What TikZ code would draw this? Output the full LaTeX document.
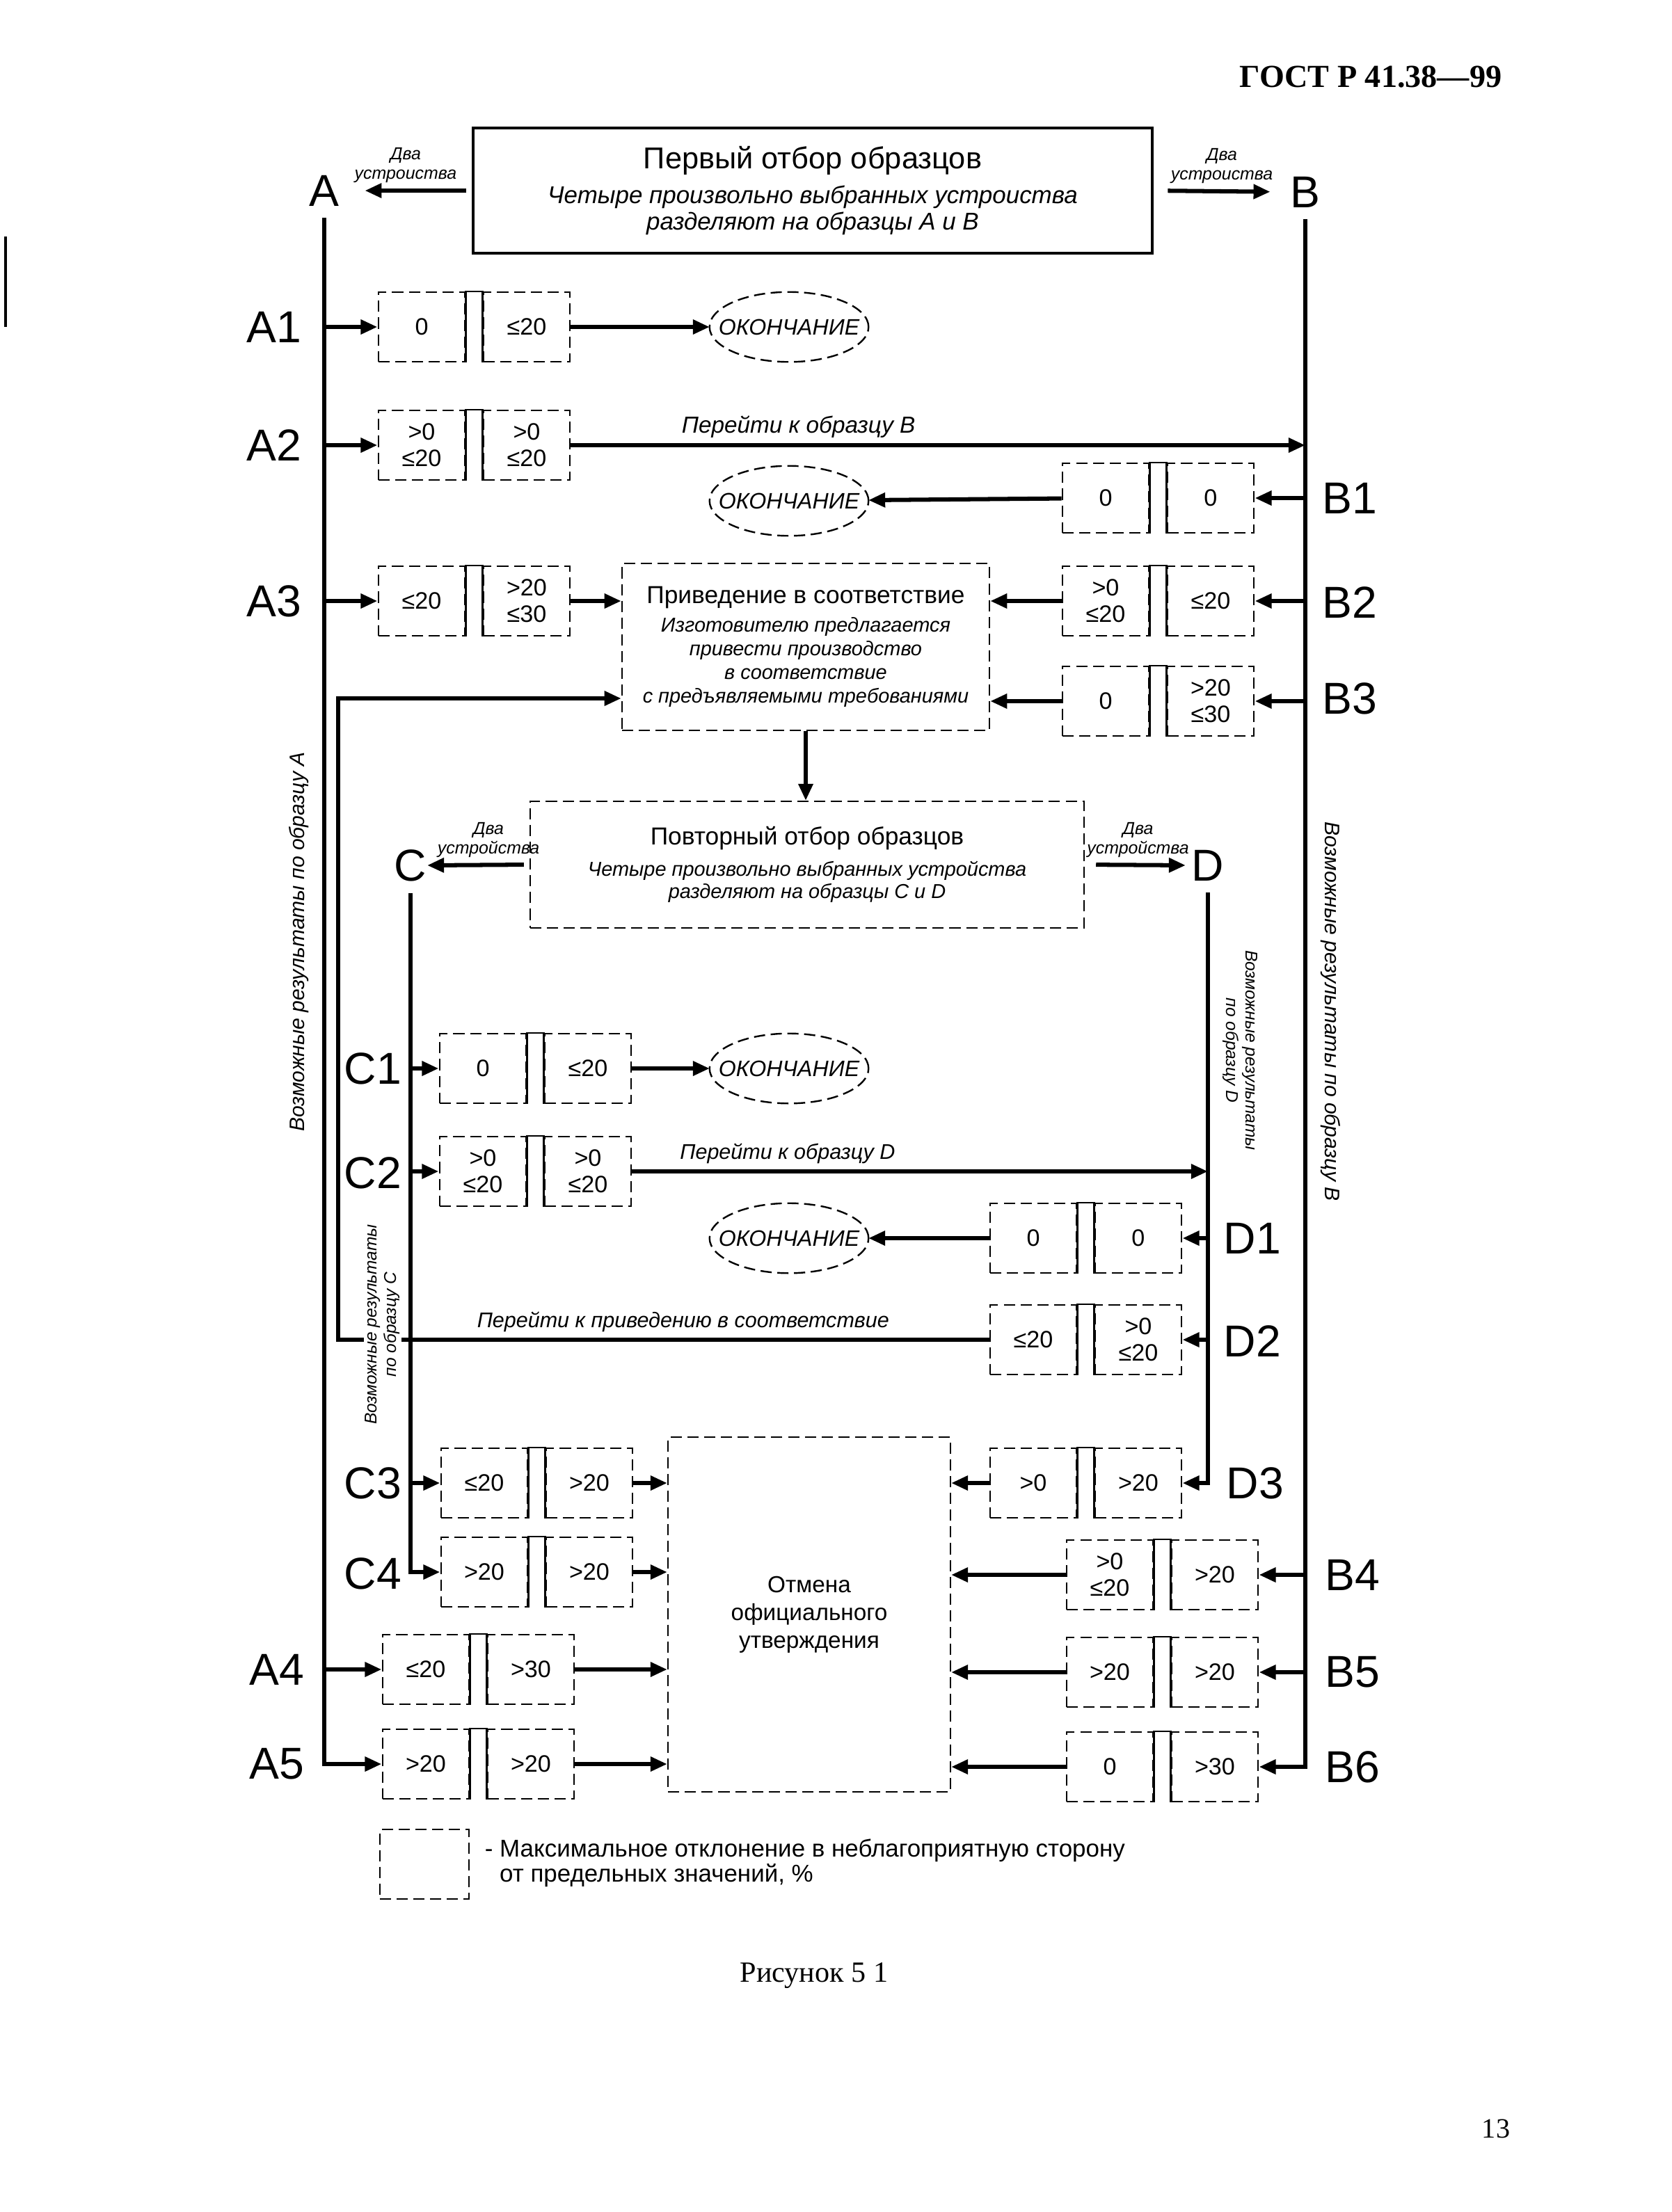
\documentclass[tikz,border=0pt]{standalone}
\usepackage{fontspec}
\setmainfont{Liberation Sans}
\newfontfamily\serifrm{Liberation Serif}
\usetikzlibrary{%
  positioning,%
  arrows.meta%
}

\begin{document}
\begin{tikzpicture}[
      x=0.0175cm, y=-0.0175cm,
      every text node part/.style={align=center},
      cell/.style={
        draw,
        dash pattern=on 4pt off 2pt,
        line width=0.6pt,
        minimum width=1.09cm,
        minimum height=0.875cm,
        inner sep=1pt,
        font=\fontsize{8.5}{9.5}\selectfont
      },
      panel/.style 2 args={
        draw,
        dash pattern=on 4pt off 2pt,
        line width=0.6pt,
        minimum width=#1,
        minimum height=#2
      },
      conn/.style={
        line width=1.5pt,
        -{Triangle[length=6pt,width=5pt]}
      },
      tag/.style={font=\fontsize{16}{16}\selectfont, inner sep=0pt},
      small/.style={font=\fontsize{6.2}{7}\selectfont\itshape, inner sep=1pt},
      hint/.style={font=\fontsize{7.6}{9}\selectfont\itshape, inner sep=2pt},
      finish/.style={font=\fontsize{8}{8}\selectfont\itshape, inner sep=0pt, inner xsep=3pt}
    ]
    \useasboundingbox (0,0) rectangle (1201.5,1590);

    % page furniture
    \node[font=\serifrm\bfseries\fontsize{11.5}{12}\selectfont] (Head) at (985,55) {ГОСТ Р 41.38—99};
    \node[font=\serifrm\fontsize{10.5}{12}\selectfont] (Caption) at (585,1420) {Рисунок 5 1};
    \node[font=\serifrm\fontsize{10}{12}\selectfont] (Page) at (1075,1530) {13};
    \draw[line width=1pt] (4,170) -- (4,235);

    % sampling boxes
    \node[draw, line width=1.2pt, minimum width=8.54cm, minimum height=1.575cm,
          font=\fontsize{8.7}{9.5}\selectfont\itshape]
      (First) at (584,137)
      {{\upshape\fontsize{10.8}{12}\selectfont Первый отбор образцов}\\[3pt]
       Четыре произвольно выбранных устроиства\\
       разделяют на образцы A и B};

    \node[panel={4.62cm}{2.1cm}, font=\fontsize{7.2}{8.5}\selectfont\itshape]
      (Fix) at (579,465)
      {{\upshape\fontsize{8.8}{11}\selectfont Приведение в соответствие}\\[1.5pt]
       Изготовителю предлагается\\
       привести производство\\
       в соответствие\\
       с предъявляемыми требованиями};

    \node[panel={6.965cm}{1.59cm}, font=\fontsize{7.2}{8}\selectfont\itshape]
      (Resample) at (580,621.5)
      {{\upshape\fontsize{8.8}{11}\selectfont Повторный отбор образцов}\\[3pt]
       Четыре произвольно выбранных устройства\\
       разделяют на образцы C и D};

    \node[panel={3.55cm}{4.46cm}, font=\fontsize{8.3}{10}\selectfont]
      (Cancel) at (581.5,1160.5)
      {Отмена\\официального\\утверждения};

    % sample letters
    \node[tag] (A) at (233,137) {A};
    \node[tag] (B) at (938,138) {B};
    \node[tag] (C) at (295,622) {C};
    \node[tag] (D) at (868,622) {D};

    \foreach \t/\x/\y in {A1/197/235, A2/197/320, A3/197/432, A4/199/1200, A5/199/1268,
        B1/970/358, B2/970/433, B3/970/502, B4/972/1132, B5/972/1202, B6/972/1270,
        C1/268/768, C2/268/843, C3/268/1066, C4/268/1131,
        D1/900/890, D2/900/964, D3/902/1066}
      \node[tag] (L\t) at (\x,\y) {\t};

    % result cells
    \foreach \n/\x/\y/\p/\q in {
        A1/303/235/0/{≤20},
        A2/303/320/{>0\\≤20}/{>0\\≤20},
        A3/303/432/{≤20}/{>20\\≤30},
        B1/794.5/358/0/0,
        B2/794.5/432/{>0\\≤20}/{≤20},
        B3/794.5/504/0/{>20\\≤30},
        C1/347/768/0/{≤20},
        C2/347/842/{>0\\≤20}/{>0\\≤20},
        D1/742.5/890/0/0,
        D2/742.5/963/{≤20}/{>0\\≤20},
        D3/742.5/1066/{>0}/{>20},
        C3/348/1066/{≤20}/{>20},
        C4/348/1130/{>20}/{>20},
        B4/797.5/1132/{>0\\≤20}/{>20},
        A4/306/1200/{≤20}/{>30},
        B5/797.5/1202/{>20}/{>20},
        A5/306/1268/{>20}/{>20},
        B6/797.5/1270/0/{>30}}
    {
      \node[cell] (\n-l) at (\x,\y) {\p};
      \node[cell, right=0.21cm of \n-l] (\n-r) {\q};
      \draw[line width=0.6pt] (\n-l.south east) -- (\n-l.north east)
        -- (\n-r.north west) -- (\n-r.south west);
    }

    % end states
    \node[finish] (End1) at (567,235) {ОКОНЧАНИЕ};
    \node[finish] (End2) at (567,360) {ОКОНЧАНИЕ};
    \node[finish] (End3) at (567,768) {ОКОНЧАНИЕ};
    \node[finish] (End4) at (567,890) {ОКОНЧАНИЕ};
    \foreach \e in {End1,End2,End3,End4}
      \draw[dash pattern=on 4pt off 2pt, line width=0.6pt]
        (\e) ellipse [x radius=1cm, y radius=0.44cm];

    % splitting into samples
    \draw[conn, shorten >=9pt, shorten <=2pt] (First.west) -- (A.east)
      node[small, midway, above=1pt] {Два\\устроиства};
    \draw[conn, shorten >=7pt, shorten <=5pt] (First.east) -- (B.west)
      node[small, midway, above=1pt] {Два\\устроиства};
    \draw[conn, shorten <=2pt] (Resample.west) -- (C.east)
      node[small, pos=.4, above=1pt] {Два\\устройства};
    \draw[conn, shorten <=4pt, shorten >=2pt] (Resample.east) -- (D.west)
      node[small, midway, above=1pt] {Два\\устройства};

    % rails
    \draw[conn, shorten <=4pt] (A.south) |- (A5-l);
    \draw[conn, shorten <=4pt] (B.south) |- (B6-r);
    \draw[conn, shorten <=4pt] (C.south) |- (C4-l);
    \draw[conn, shorten <=4pt] (D.south) |- (D3-r);
    \foreach \r in {A1,A2,A3,A4}
      \draw[conn] (A.south |- \r-l) -- (\r-l);
    \foreach \r in {B1,B2,B3,B4,B5}
      \draw[conn] (B.south |- \r-r) -- (\r-r);
    \foreach \r in {C1,C2,C3}
      \draw[conn] (C.south |- \r-l) -- (\r-l);
    \foreach \r in {D1,D2}
      \draw[conn] (D.south |- \r-r) -- (\r-r);

    % outcomes
    \draw[conn] (A1-r) -- (End1);
    \draw[conn] (A2-r) -- (A2-r -| B.south)
      node[hint, font=\fontsize{8.3}{9}\selectfont\itshape, pos=.31, above] {Перейти к образцу B};
    \draw[conn] (B1-l) -- (End2);
    \draw[conn] (A3-r) -- (A3-r -| Fix.west);
    \draw[conn] (B2-l) -- (B2-l -| Fix.east);
    \draw[conn] (B3-l) -- (B3-l -| Fix.east);
    \draw[conn] (Fix.south) -- (Fix.south |- Resample.north);
    \draw[conn] (C1-r) -- (End3);
    \draw[conn] (C2-r) -- (C2-r -| D.south)
      node[hint, pos=.27, above] {Перейти к образцу D};
    \draw[conn] (D1-l) -- (End4);
    \coordinate (Back) at (243,502);
    \draw[conn] (D2-l) -- (D2-l -| Back)
      node[hint, pos=.47, above] {Перейти к приведению в соответствие}
      -- (Back) -- (Back -| Fix.west);
    \draw[conn] (D3-l) -- (D3-l -| Cancel.east);
    \foreach \r in {C3,C4,A4,A5}
      \draw[conn] (\r-r) -- (\r-r -| Cancel.west);
    \foreach \r in {B4,B5,B6}
      \draw[conn] (\r-l) -- (\r-l -| Cancel.east);

    % side notes
    \node[rotate=90, font=\fontsize{7.5}{9}\selectfont\itshape] (ResA) at (215,677)
      {Возможные результаты по образцу A};
    \node[rotate=-90, font=\fontsize{7.5}{9}\selectfont\itshape] (ResB) at (956,727)
      {Возможные результаты по образцу B};
    \node[rotate=90, fill=white, inner sep=0.5pt, font=\fontsize{6.1}{7}\selectfont\itshape] (ResC) at (275,952)
      {Возможные результаты\\по образцу C};
    \node[rotate=-90, font=\fontsize{6.1}{7}\selectfont\itshape] (ResD) at (891,755)
      {Возможные результаты\\по образцу D};

    % legend
    \node[cell, minimum width=1.12cm] (Key) at (305,1340) {};
    \node[anchor=west, font=\fontsize{8.7}{9}\selectfont,
          every text node part/.style={align=left}] (KeyText) at (352,1339)
      {\llap{- }Максимальное отклонение в неблагоприятную сторону\\
       от предельных значений, \%};
  \end{tikzpicture}
\end{document}
